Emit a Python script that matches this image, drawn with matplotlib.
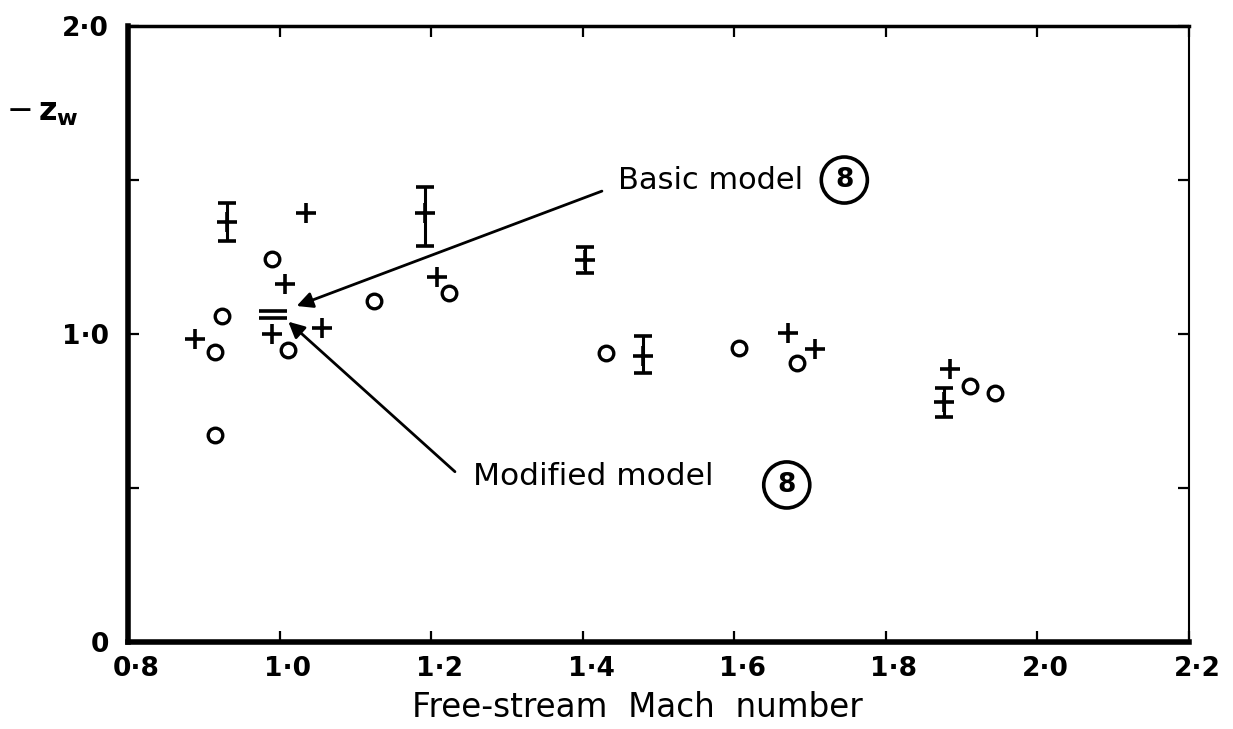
import numpy as np
import matplotlib
matplotlib.use('Agg')
import matplotlib.pyplot as plt
from matplotlib.transforms import ScaledTranslation

# open circles
circ_m = [0.99, 0.923, 0.914, 1.011, 0.914, 1.124, 1.223, 1.431, 1.606, 1.683, 1.911, 1.944]
circ_z = [1.245, 1.058, 0.943, 0.948, 0.672, 1.107, 1.134, 0.937, 0.956, 0.907, 0.831, 0.807]

# crosses, no scatter band
plus_m = [1.034, 1.006, 1.055, 0.888, 1.207, 1.671, 1.706, 1.885, 0.989]
plus_z = [1.392, 1.162, 1.018, 0.983, 1.186, 1.002, 0.950, 0.885, 1.0]

# crosses with scatter band
bar_m = [0.930, 1.191, 1.403, 1.479, 1.876]
bar_z = [1.365, 1.392, 1.240, 0.930, 0.778]
bar_lo = [0.063, 0.105, 0.043, 0.057, 0.047]
bar_hi = [0.061, 0.086, 0.042, 0.064, 0.046]

# model 8 values at M = 1.0 (basic, modified)
model_m = [0.991, 0.991]
model_z = [1.075, 1.051]

xticks = [0.8, 1.0, 1.2, 1.4, 1.6, 1.8, 2.0, 2.2]
xlabels = ['0·8', '1·0', '1·2', '1·4', '1·6', '1·8', '2·0', '2·2']
yticks = [0, 0.5, 1.0, 1.5, 2.0]
ylabels = ['0', '', '1·0', '', '2·0']

plt.rcParams['font.family'] = ['DejaVu Sans']

fig = plt.figure(figsize=(12.33, 7.29), dpi=100)
ax = fig.add_axes([0.1042, 0.1193, 0.8601, 0.845])

ax.plot(circ_m, circ_z, 'o', mfc='none', mec='k', ms=10.5, mew=2.4)
ax.plot(plus_m, plus_z, '+', color='k', ms=15, mew=2.6)
ax.errorbar(bar_m, bar_z, yerr=[bar_lo, bar_hi], fmt='+', color='k', ms=14,
            mew=2.6, elinewidth=2.2, capsize=6.5, capthick=2.6)
ax.plot(model_m, model_z, '_', color='k', ms=20, mew=2.6)

ax.set_xlim(0.8, 2.2)
ax.set_ylim(0, 2.0)

ax.set_xticks(xticks)
ax.set_xticklabels(xlabels, fontsize=19, fontweight='bold')
ax.set_yticks(yticks)
ax.set_yticklabels(ylabels, fontsize=19, fontweight='bold')
ax.tick_params(direction='in', length=8, width=1.6, top=True, right=True, pad=10)
ax.tick_params(axis='y', pad=14)
for lab in ax.get_xticklabels():
    lab.set_transform(lab.get_transform() + ScaledTranslation(0.08, 0, fig.dpi_scale_trans))

ax.spines['left'].set_linewidth(4)
ax.spines['bottom'].set_linewidth(4)
ax.spines['top'].set_linewidth(2.5)
ax.spines['right'].set_linewidth(1.5)

ax.set_xlabel('Free-stream  Mach  number', fontsize=23.5, va='center')
ax.xaxis.set_label_coords(0.4795, -0.1055)
ax.text(-0.0816, 0.86, r'$-\,\mathregular{z_w}$', transform=ax.transAxes,
        fontsize=23, fontweight='bold', ha='center', va='center')

# annotations
arrow = dict(arrowstyle='-|>', lw=2, color='k', mutation_scale=24, shrinkA=0, shrinkB=0)
ax.annotate('', xy=(1.022, 1.091), xytext=(1.425, 1.464), arrowprops=arrow)
ax.annotate('', xy=(1.011, 1.040), xytext=(1.231, 0.553), arrowprops=arrow)

ax.text(1.446, 1.5, 'Basic model', fontsize=22, ha='left', va='center')
ax.text(1.745, 1.5, '8', fontsize=19, fontweight='bold', ha='center', va='center',
        bbox=dict(boxstyle='circle,pad=0.38', fc='white', ec='k', lw=2.6))
ax.text(1.255, 0.536, 'Modified model', fontsize=22.5, ha='left', va='center')
ax.text(1.669, 0.51, '8', fontsize=19, fontweight='bold', ha='center', va='center',
        bbox=dict(boxstyle='circle,pad=0.38', fc='white', ec='k', lw=2.6))

fig.savefig('out.png', dpi=100)
